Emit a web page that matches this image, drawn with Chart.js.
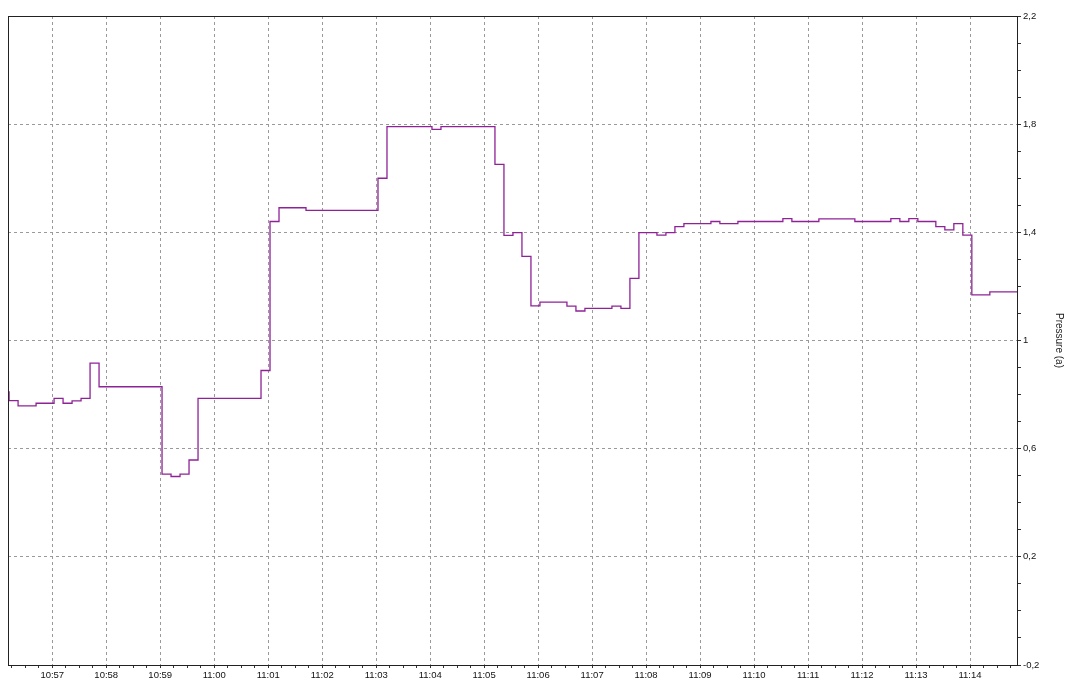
<!DOCTYPE html>
<html>
<head>
<meta charset="utf-8">
<title>Trend</title>
<script src="https://cdn.jsdelivr.net/npm/chart.js@4.4.1/dist/chart.umd.min.js"></script>
<style>
  html, body { margin: 0; padding: 0; background: #fff; overflow: hidden; }
  #wrap { width: 1065px; height: 678px; }
</style>
</head>
<body>
<div id="wrap"><canvas id="chart" width="1065" height="678"></canvas></div>
<script>
// sample change points (time of change, value held until next change)
const times = [
  "10:56:02", "10:56:12", "10:56:22", "10:56:42", "10:57:02", "10:57:12",
  "10:57:22", "10:57:32", "10:57:42", "10:57:52", "10:59:02", "10:59:12",
  "10:59:22", "10:59:32", "10:59:42", "11:00:52", "11:01:02", "11:01:12",
  "11:01:42", "11:03:02", "11:03:12", "11:04:02", "11:04:12", "11:05:12",
  "11:05:22", "11:05:32", "11:05:42", "11:05:52", "11:06:02", "11:06:32",
  "11:06:42", "11:06:52", "11:07:22", "11:07:32", "11:07:42", "11:07:52",
  "11:08:12", "11:08:22", "11:08:32", "11:08:42", "11:09:12", "11:09:22",
  "11:09:42", "11:10:32", "11:10:42", "11:11:12", "11:11:52", "11:12:32",
  "11:12:42", "11:12:52", "11:13:02", "11:13:22", "11:13:32", "11:13:42",
  "11:13:52", "11:14:02", "11:14:22", "11:15:02"
];
const values = [
  0.81, 0.778, 0.758, 0.768, 0.786, 0.768,
  0.777, 0.786, 0.916, 0.829, 0.506, 0.497,
  0.506, 0.558, 0.786, 0.889, 1.44, 1.491,
  1.481, 1.60, 1.791, 1.781, 1.791, 1.651,
  1.389, 1.399, 1.311, 1.128, 1.142, 1.127,
  1.109, 1.119, 1.127, 1.119, 1.23, 1.399,
  1.39, 1.399, 1.421, 1.432, 1.44, 1.432,
  1.44, 1.451, 1.44, 1.45, 1.44, 1.451,
  1.44, 1.451, 1.44, 1.421, 1.409, 1.432,
  1.39, 1.169, 1.18, 1.18
];
const xRange = ["10:56:10.8", "11:14:52.2"];
const yMin = -0.2;
const yMax = 2.2;
const yLabel = "Pressure (a)";

const toSec = (s) => {
  const p = s.split(":").map(Number);
  return p[0] * 3600 + p[1] * 60 + p[2];
};
const fmtTime = (v) => {
  const m = Math.round(v / 60);
  const hh = Math.floor(m / 60);
  const mm = m % 60;
  return (hh < 10 ? "0" : "") + hh + ":" + (mm < 10 ? "0" : "") + mm;
};
const isLabelY = (v) => {
  const k = Math.round(v * 10);
  return (k + 2) % 4 === 0;
};
const fmtY = (v) => String(Math.round(v * 10) / 10).replace(".", ",");

const points = times.map((t, i) => ({ x: toSec(t), y: values[i] }));

const GRID = "#9a9a9a";
const FONT = { family: "'Liberation Sans', Arial, sans-serif", size: 9.5 };

const frame = {
  id: "frame",
  afterDraw(chart) {
    const { ctx, chartArea: a } = chart;
    ctx.save();
    ctx.strokeStyle = "#222";
    ctx.lineWidth = 1;
    ctx.strokeRect(Math.round(a.left) + 0.5, Math.round(a.top) + 0.5,
      Math.round(a.right - a.left), Math.round(a.bottom - a.top));
    ctx.restore();
  },
};

new Chart(document.getElementById("chart"), {
  type: "line",
  data: {
    datasets: [{
      data: points,
      borderColor: "#8e2297",
      borderWidth: 1.3,
      stepped: true,
      pointRadius: 0,
      fill: false,
    }],
  },
  options: {
    responsive: false,
    animation: false,
    layout: { padding: { left: 8, top: 16, right: 0, bottom: 0 } },
    plugins: { legend: { display: false }, tooltip: { enabled: false } },
    scales: {
      x: {
        type: "linear",
        min: toSec(xRange[0]),
        max: toSec(xRange[1]),
        afterFit(s) { s.height = 13; },
        border: { display: true, color: "#222", dash: [3, 3] },
        grid: {
          color: (c) => (c.tick && c.tick.value % 60 === 0 ? GRID : "rgba(0,0,0,0)"),
          tickColor: "#333",
          tickLength: 3,
        },
        ticks: {
          stepSize: 15,
          autoSkip: false,
          includeBounds: false,
          maxRotation: 0,
          padding: 2,
          color: "#111",
          font: FONT,
          callback: (v) => (v % 60 === 0 ? fmtTime(v) : ""),
        },
      },
      y: {
        position: "right",
        min: yMin,
        max: yMax,
        afterFit(s) { s.width = 48; },
        border: { display: true, color: "#222", dash: [3, 3] },
        grid: {
          color: (c) => {
            const v = c.tick ? c.tick.value : 0;
            if (v <= yMin + 0.01 || v >= yMax - 0.01) return "rgba(0,0,0,0)";
            return isLabelY(v) ? GRID : "rgba(0,0,0,0)";
          },
          tickColor: "#333",
          tickLength: 4,
        },
        ticks: {
          stepSize: 0.1,
          autoSkip: false,
          padding: 2,
          color: "#111",
          font: FONT,
          callback: (v) => (isLabelY(v) ? fmtY(v) : ""),
        },
        title: {
          display: true,
          text: yLabel,
          color: "#222",
          font: { family: FONT.family, size: 10 },
          padding: { top: 0, bottom: 0 },
        },
      },
    },
  },
  plugins: [frame],
});
</script>
</body>
</html>
